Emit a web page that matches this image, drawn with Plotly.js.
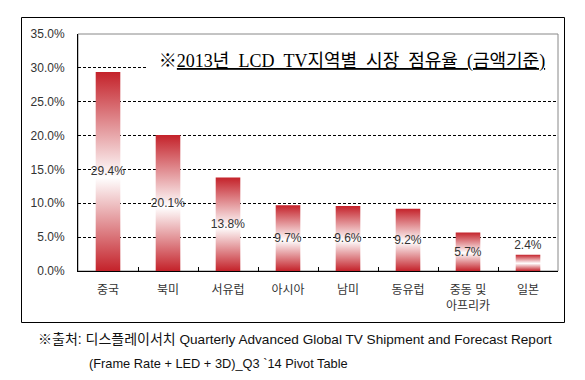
<!DOCTYPE html>
<html>
<head>
<meta charset="utf-8">
<script src="https://cdn.plot.ly/plotly-3.0.1.min.js"></script>
<style>
  html, body { margin: 0; padding: 0; background: #fff; }
  #chart { width: 585px; height: 380px; }
</style>
</head>
<body>
<div id="chart"></div>
<script>
// ---- data ----
const categories = ['중국', '북미', '서유럽', '아시아', '남미', '동유럽', '중동 및<br>아프리카', '일본'];
const shares = [29.4, 20.1, 13.8, 9.7, 9.6, 9.2, 5.7, 2.4];
const yTickVals = [0, 5, 10, 15, 20, 25, 30, 35];
const yTickText = ['0.0%', '5.0%', '10.0%', '15.0%', '20.0%', '25.0%', '30.0%', '35.0%'];
const titleWords = ['2013년', 'LCD', 'TV지역별', '시장', '점유율', '(금액기준)'];
const sourcePrefix = '※출처: 디스플레이서치';
const sourceLine1 = 'Quarterly Advanced Global TV Shipment and Forecast Report';
const sourceLine2 = '(Frame Rate + LED + 3D)_Q3 `14 Pivot Table';

const labelFont = 'Liberation Sans, Noto Sans CJK KR, sans-serif';
const barText = shares.map(v => v.toFixed(1) + '%');
const textPos = shares.map(v => v < 4 ? 'outside' : 'inside');
const titleText = '<b>※</b><u>' + titleWords.join('&nbsp;&nbsp;') + '</u>';

const trace = {
  type: 'bar',
  x: categories,
  y: shares,
  marker: { color: '#c8242b', line: { width: 0 } },
  text: barText,
  textposition: textPos,
  insidetextanchor: 'middle',
  textangle: 0,
  constraintext: 'none',
  cliponaxis: false,
  textfont: { family: labelFont, size: 12, color: '#333' },
  hoverinfo: 'none'
};

// plot area pixel box: x 78..558, y 34..271
const L = 78, R = 27, T = 34, B = 109;
const W = 585 - L - R, H = 380 - T - B;
const px = x => (x - L) / W;
const py = y => (380 - B - y) / H;

const layout = {
  width: 585, height: 380,
  margin: { l: L, r: R, t: T, b: B, pad: 0 },
  paper_bgcolor: '#fff', plot_bgcolor: '#fff',
  showlegend: false,
  bargap: 0.59,
  font: { family: labelFont, size: 12, color: '#333' },
  xaxis: {
    type: 'category',
    showline: true, linecolor: '#000', linewidth: 1,
    ticks: 'inside', tickson: 'boundaries', ticklen: 4, tickcolor: '#000',
    showgrid: false,
    tickfont: { family: labelFont, size: 12, color: '#333' },
    ticklabelstandoff: 8,
    fixedrange: true
  },
  yaxis: {
    range: [0, 35],
    tickvals: yTickVals, ticktext: yTickText,
    showline: true, linecolor: '#000', linewidth: 1,
    ticks: '',
    showgrid: true, gridcolor: '#000', gridwidth: 1, griddash: '3px,2px',
    zeroline: false,
    tickfont: { family: labelFont, size: 12, color: '#333' },
    ticklabelstandoff: 10,
    fixedrange: true
  },
  shapes: [
    { type: 'rect', xref: 'paper', yref: 'paper', x0: 0, x1: 1, y0: 0, y1: 1,
      line: { color: '#888', width: 1 }, fillcolor: 'rgba(0,0,0,0)', layer: 'between' },
    { type: 'rect', xref: 'paper', yref: 'paper',
      x0: px(21.5), x1: px(564.5), y0: py(322.5), y1: py(17.5),
      line: { color: '#000', width: 1 }, fillcolor: 'rgba(0,0,0,0)', layer: 'above' }
  ],
  annotations: [
    { text: titleText, xref: 'paper', yref: 'paper', x: px(352), y: py(61),
      xanchor: 'center', yanchor: 'middle', showarrow: false,
      bgcolor: '#fff', borderpad: 5, width: 398,
      font: { family: 'Liberation Serif, Noto Sans CJK KR, serif', size: 18, color: '#000' } },
    { text: '<span style="font-size:14px">' + sourcePrefix + '</span> ' + sourceLine1,
      xref: 'paper', yref: 'paper', x: px(36), y: py(339),
      xanchor: 'left', yanchor: 'middle', showarrow: false,
      font: { family: labelFont, size: 13.6, color: '#111' } },
    { text: sourceLine2, xref: 'paper', yref: 'paper', x: px(87), y: py(363),
      xanchor: 'left', yanchor: 'middle', showarrow: false,
      font: { family: labelFont, size: 12.8, color: '#111' } }
  ]
};

function applyGradient(gd) {
  const svg = gd.querySelector('svg.main-svg');
  const ns = 'http://www.w3.org/2000/svg';
  let defs = svg.querySelector('defs');
  if (!defs) { defs = document.createElementNS(ns, 'defs'); svg.insertBefore(defs, svg.firstChild); }
  const grad = document.createElementNS(ns, 'linearGradient');
  grad.setAttribute('id', 'barGrad');
  grad.setAttribute('x1', '0'); grad.setAttribute('y1', '0');
  grad.setAttribute('x2', '0'); grad.setAttribute('y2', '1');
  [['0', '#c4222a'], ['0.53', '#ffffff'], ['1', '#c4222a']].forEach(([o, c]) => {
    const s = document.createElementNS(ns, 'stop');
    s.setAttribute('offset', o); s.setAttribute('stop-color', c);
    grad.appendChild(s);
  });
  defs.appendChild(grad);
  gd.querySelectorAll('.trace.bars .point path').forEach(p => { p.style.fill = 'url(#barGrad)'; });
}

Plotly.newPlot('chart', [trace], layout, { staticPlot: true, displayModeBar: false })
  .then(applyGradient);
</script>
</body>
</html>
